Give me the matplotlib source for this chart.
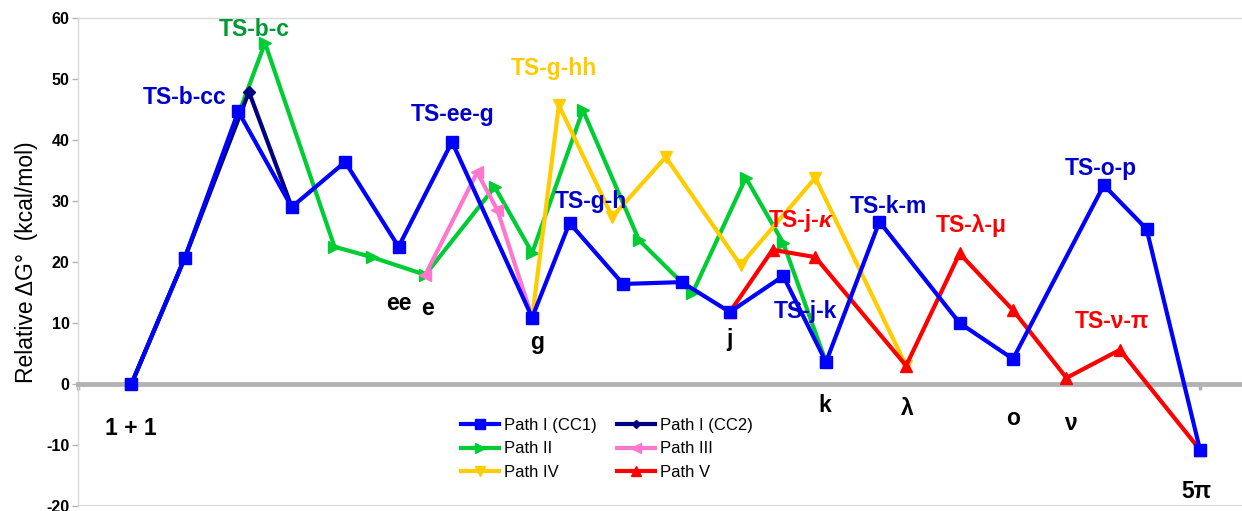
import matplotlib
matplotlib.use('Agg')
import matplotlib.pyplot as plt

plt.rcParams['font.family'] = ['Liberation Sans', 'DejaVu Sans']

# reaction coordinate (arbitrary units) and relative free energies (kcal/mol)
x_cc1 = [0, 1, 2, 3, 4, 5, 6, 7.5, 8.2, 9.2, 10.3, 11.2, 12.2, 13, 14, 15.5, 16.5, 18.2, 19, 20]
g_cc1 = [0, 20.7, 44.7, 29.0, 36.4, 22.5, 39.7, 10.9, 26.4, 16.4, 16.7, 11.8, 17.7, 3.6, 26.6, 10.0, 4.1, 32.6, 25.4, -10.8]

x_cc2 = [0, 1, 2.2, 3]
g_cc2 = [0, 20.7, 47.9, 29.0]

x_p2 = [0, 1, 2.5, 3.8, 4.5, 5.5, 6.8, 7.5, 8.45, 9.5, 10.5, 11.5, 12.2, 13]
g_p2 = [0, 20.7, 55.9, 22.5, 20.8, 17.9, 32.3, 21.5, 44.9, 23.6, 14.9, 33.8, 23.1, 3.6]

x_p3 = [5.5, 6.47, 6.85, 7.5]
g_p3 = [17.9, 34.7, 28.5, 10.9]

x_p4 = [7.5, 8.0, 9.0, 10.0, 11.4, 12.8, 14.5]
g_p4 = [10.9, 45.7, 27.4, 37.2, 19.5, 33.8, 3.0]

x_p5 = [11.2, 12.0, 12.8, 14.5, 15.5, 16.5, 17.5, 18.5, 20]
g_p5 = [11.8, 22.0, 20.8, 3.0, 21.4, 12.1, 1.0, 5.6, -10.8]

y_ticks = [-20, -10, 0, 10, 20, 30, 40, 50, 60]

# (text, x, y, colour)
ts_labels = [
    ('TS-b-c', 2.30, 57.05, '#009933'),
    ('TS-b-cc', 0.99, 45.9, '#0000cc'),
    ('TS-ee-g', 6.01, 43.1, '#0000cc'),
    ('TS-g-hh', 7.90, 50.7, '#ffcc00'),
    ('TS-g-h', 8.59, 28.9, '#0000cc'),
    ('TS-k-m', 14.16, 28.0, '#0000cc'),
    ('TS-λ-μ', 15.72, 24.9, '#ff0000'),
    ('TS-o-p', 18.15, 34.3, '#0000cc'),
    ('TS-j-k', 12.61, 10.8, '#0000cc'),
    ('TS-ν-π', 18.35, 9.2, '#ff0000'),
]
species_labels = [
    ('1 + 1', -0.02, -8.4),
    ('ee', 5.0, 12.1),
    ('e', 5.54, 11.3),
    ('g', 7.6, 5.7),
    ('j', 11.19, 6.2),
    ('k', 12.97, -4.6),
    ('λ', 14.52, -5.1),
    ('o', 16.5, -6.7),
    ('ν', 17.57, -7.5),
    ('5π', 19.94, -18.7),
]

fig = plt.figure(figsize=(12.42, 5.11), dpi=100)
ax = fig.add_axes([78 / 1242, 5 / 511, 1 - 78 / 1242, 488 / 511])

lw = 3
ax.plot(x_p2, g_p2, '-', marker='>', color='#00cc33', lw=lw, ms=9, label='Path II', zorder=3)
ax.plot(x_p3, g_p3, '-', marker='<', color='#ff77cc', lw=lw, ms=9, label='Path III', zorder=3)
ax.plot(x_p4, g_p4, '-', marker='v', color='#ffcc00', lw=lw, ms=9, label='Path IV', zorder=3)
ax.plot(x_p5, g_p5, '-', marker='^', color='#ff0000', lw=lw, ms=9, label='Path V', zorder=3)
ax.plot(x_cc2, g_cc2, '-', marker='D', color='#000080', lw=lw, ms=6, label='Path I (CC2)', zorder=3)
ax.plot(x_cc1, g_cc1, '-', marker='s', color='#0000ff', lw=lw, ms=9, label='Path I (CC1)', zorder=4)

for txt, x, y, c in ts_labels:
    ax.text(x, y, txt, color=c, fontsize=16.5, fontweight='bold', ha='center', va='baseline', zorder=5)
# italic kappa
ax.text(12.87, 25.7, 'TS-j-', color='#ff0000', fontsize=16.5, fontweight='bold', ha='right', va='baseline', zorder=5)
ax.text(12.87, 25.7, 'κ', color='#ff0000', fontsize=16.5, fontweight='bold', style='italic',
        ha='left', va='baseline', zorder=5)
for txt, x, y in species_labels:
    ax.text(x, y, txt, color='black', fontsize=16.5, fontweight='bold', ha='center', va='baseline', zorder=5)

ax.set_xlim(-1, (1242 - 131) / 53.45)
ax.set_ylim(-20, 60)
ax.set_yticks(y_ticks)
ax.set_yticklabels([str(t) for t in y_ticks], fontweight='bold', fontsize=11.5)
ax.tick_params(axis='y', length=4, width=1, color='#b3b3b3', pad=2)

ax.spines['bottom'].set_position(('data', 0))
ax.spines['bottom'].set_color('#b3b3b3')
ax.spines['bottom'].set_linewidth(3.5)
ax.set_xticks([-1, 20])
ax.set_xticklabels(['', ''])
ax.tick_params(axis='x', length=4, width=2.5, color='#b3b3b3')
for s in ['left', 'top']:
    ax.spines[s].set_color('#d9d9d9')
    ax.spines[s].set_linewidth(1)
ax.spines['right'].set_visible(False)
ax.axhline(-20, color='#d9d9d9', lw=1.5, zorder=1)

ax.set_ylabel('Relative ΔG°  (kcal/mol)', fontsize=16.5, labelpad=6)

# legend fills column by column, so order gives rows CC1/CC2, II/III, IV/V
handles, labels = ax.get_legend_handles_labels()
order = ['Path I (CC1)', 'Path II', 'Path IV', 'Path I (CC2)', 'Path III', 'Path V']
hmap = dict(zip(labels, handles))
ax.legend([hmap[k] for k in order], order, ncol=2, frameon=False, fontsize=12,
          loc='upper left', bbox_to_anchor=(461 / 1242, 1 - 418 / 511), bbox_transform=fig.transFigure,
          borderaxespad=0, borderpad=0, handlelength=2.25, handletextpad=0.35,
          columnspacing=1.2, labelspacing=0.5, markerscale=0.75)

fig.savefig('out.png', dpi=100)
